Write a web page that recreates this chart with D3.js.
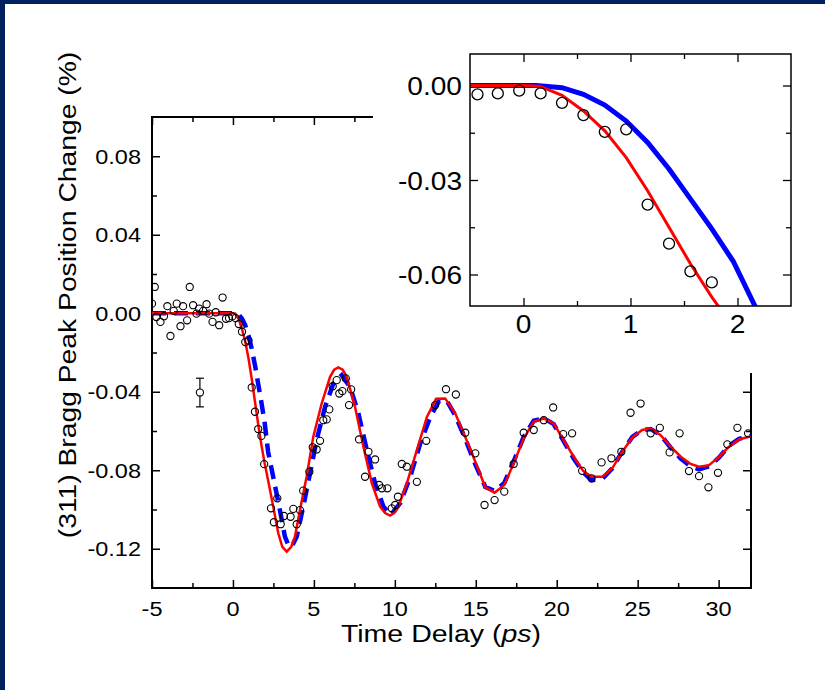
<!DOCTYPE html>
<html>
<head>
<meta charset="utf-8">
<script src="https://cdn.jsdelivr.net/npm/d3@7"></script>
<style>
  html, body { margin: 0; padding: 0; background: #fff; }
  svg { display: block; }
  text { font-family: "Liberation Sans", Arial, sans-serif; fill: #000; }
</style>
</head>
<body>
<div id="chart"></div>
<script>
// measured (311) peak shift, [time delay ps, change %]
const observed = [
  [-5.0, 0.0049], [-4.83, 0.0134], [-4.73, -0.0019], [-4.48, -0.0044], [-4.26, -0.0015],
  [-4.05, 0.0036], [-3.86, -0.0116], [-3.66, 0.0012], [-3.47, 0.0049], [-3.24, -0.0066],
  [-3.08, 0.0036], [-2.83, -0.0036], [-2.67, 0.0134], [-2.46, 0.0041], [-2.25, -0.0002],
  [-2.09, 0.0024], [-1.84, 0.0012], [-1.63, 0.0046], [-1.47, -0.0002], [-1.26, -0.0044],
  [-1.06, 0.0005], [-0.85, -0.0061], [-0.64, 0.008], [-0.43, -0.0028], [-0.24, -0.0025],
  [-0.04, -0.0016], [0.16, -0.0025], [0.36, -0.0055], [0.56, -0.0094], [0.76, -0.0147],
  [0.96, -0.0139], [1.16, -0.0378], [1.36, -0.0502], [1.56, -0.059], [1.76, -0.0625],
  [1.93, -0.0769], [2.35, -0.0994], [2.53, -0.1065], [2.74, -0.0943], [2.95, -0.1075],
  [3.15, -0.1033], [3.56, -0.1037], [3.73, -0.0997], [3.94, -0.1075], [4.14, -0.1003],
  [4.34, -0.0904], [4.72, -0.0808], [4.93, -0.0683], [5.17, -0.0694], [5.38, -0.065],
  [5.58, -0.0545], [5.79, -0.0541], [5.95, -0.049], [6.16, -0.0372], [6.41, -0.0341],
  [6.57, -0.0409], [6.76, -0.0397], [6.97, -0.0332], [7.17, -0.0468], [7.30, -0.0388],
  [7.79, -0.0643], [8.16, -0.0833], [8.37, -0.0706], [8.78, -0.0745], [9.03, -0.0875],
  [9.20, -0.0892], [9.54, -0.0892], [9.81, -0.0994], [10.02, -0.0977], [10.19, -0.0935],
  [10.43, -0.0768], [10.74, -0.0782], [11.36, -0.0859], [11.94, -0.065], [12.49, -0.0468],
  [13.16, -0.0387], [13.77, -0.0414], [14.35, -0.0609], [14.97, -0.0714], [15.54, -0.0977],
  [16.16, -0.0952], [16.76, -0.0909], [17.34, -0.0768], [17.96, -0.0609], [18.58, -0.0595],
  [19.20, -0.0545], [19.78, -0.048], [20.40, -0.0616], [20.95, -0.0612], [21.57, -0.0803],
  [22.15, -0.0841], [22.77, -0.076], [23.38, -0.0739], [23.99, -0.0706], [24.56, -0.0507],
  [25.18, -0.046], [25.80, -0.0612], [26.37, -0.0584], [26.97, -0.0709], [27.59, -0.0612],
  [28.17, -0.0804], [28.79, -0.083], [29.37, -0.0887], [29.96, -0.0813], [30.54, -0.0668],
  [31.16, -0.0584], [31.82, -0.0612]
]

// typical error bar: [time, value, half height]
const errorBar = [[-2.04, -0.0404, 0.0073]]

// red solid fit
const fitRed = [
  [-5, 0], [0.0, 0], [0.15, -0.0002], [0.36, -0.0031], [0.56, -0.0081], [0.76, -0.0144],
  [0.96, -0.0229], [1.16, -0.0334], [1.36, -0.045], [1.56, -0.0566], [1.76, -0.0672],
  [1.96, -0.0765], [2.18, -0.0855], [2.49, -0.0986], [2.80, -0.1121], [3.05, -0.119],
  [3.32, -0.1215], [3.6, -0.119], [3.83, -0.1138], [4.14, -0.1003], [4.55, -0.0833],
  [4.96, -0.063], [5.48, -0.046], [6.0, -0.0324], [6.25, -0.0288], [6.51, -0.0276],
  [6.78, -0.0288], [7.03, -0.0324], [7.54, -0.0477], [8.06, -0.068], [8.58, -0.0867],
  [9.09, -0.0986], [9.4, -0.1018], [9.71, -0.1031], [10.0, -0.1015], [10.22, -0.0986],
  [10.74, -0.0867], [11.36, -0.0697], [11.98, -0.0528], [12.55, -0.0436], [13.11, -0.0434],
  [13.73, -0.051], [14.35, -0.063], [14.97, -0.0757], [15.59, -0.0887], [16.16, -0.0914],
  [16.76, -0.0875], [17.34, -0.0765], [17.96, -0.0638], [18.58, -0.0553], [19.2, -0.0536],
  [19.81, -0.0561], [20.43, -0.0646], [21.05, -0.0731], [21.63, -0.0803], [22.15, -0.0833],
  [22.81, -0.0833], [23.43, -0.079], [24.05, -0.0706], [24.67, -0.0633], [25.28, -0.0595],
  [25.8, -0.0587], [26.42, -0.0621], [27.04, -0.068], [27.66, -0.0731], [28.27, -0.0768],
  [28.79, -0.0782], [29.41, -0.0774], [30.03, -0.0731], [30.64, -0.068], [31.26, -0.0643],
  [32.0, -0.0626]
]

// blue dashed fit
const fitBlue = [
  [-5, 0], [0.12, 0], [0.36, -0.0007], [0.56, -0.0028], [0.76, -0.0062], [0.96, -0.0113],
  [1.16, -0.0181], [1.36, -0.0265], [1.56, -0.036], [1.76, -0.0455], [1.96, -0.0558],
  [2.17, -0.0705], [2.49, -0.0835], [2.90, -0.1003], [3.21, -0.1138], [3.47, -0.119],
  [3.72, -0.1175], [3.94, -0.1138], [4.34, -0.0986], [4.76, -0.0816], [5.17, -0.0646],
  [5.69, -0.0477], [6.2, -0.0358], [6.72, -0.0316], [7.23, -0.0375], [7.75, -0.051],
  [8.27, -0.0697], [8.78, -0.0867], [9.3, -0.0986], [9.75, -0.1028], [10.33, -0.0968],
  [10.95, -0.0833], [11.57, -0.0663], [12.19, -0.0528], [12.7, -0.045], [13.2, -0.0445],
  [13.73, -0.052], [14.35, -0.064], [14.97, -0.077], [15.59, -0.0885], [16.16, -0.0905],
  [16.76, -0.0865], [17.34, -0.0755], [17.96, -0.063], [18.58, -0.0548], [19.2, -0.0535],
  [19.81, -0.0565], [20.43, -0.0652], [21.05, -0.074], [21.63, -0.081], [22.15, -0.085],
  [22.81, -0.0845], [23.43, -0.079], [24.05, -0.0705], [24.67, -0.063], [25.28, -0.0595],
  [25.8, -0.059], [26.42, -0.062], [27.04, -0.0685], [27.66, -0.074], [28.27, -0.078],
  [28.79, -0.0795], [29.41, -0.078], [30.03, -0.0735], [30.64, -0.0675], [31.26, -0.064],
  [32.0, -0.0625]
]

// ticks and labels
const mainXMajor = [-5, 0, 5, 10, 15, 20, 25, 30]
const mainXLabels = ['-5', '0', '5', '10', '15', '20', '25', '30']
const mainXMinor = [-2.5, 2.5, 7.5, 12.5, 17.5, 22.5, 27.5]
const mainYMajor = [0.08, 0.04, 0, -0.04, -0.08, -0.12]
const mainYLabels = ['0.08', '0.04', '0.00', '-0.04', '-0.08', '-0.12']
const mainYMinor = [0.06, 0.02, -0.02, -0.06, -0.10]
const insetXMajor = [0, 1, 2]
const insetXLabels = ['0', '1', '2']
const insetXMinor = [0.5, 1.5]
const insetYMajor = [0, -0.03, -0.06]
const insetYLabels = ['0.00', '-0.03', '-0.06']
const insetYMinor = [-0.015, -0.045]

const W = 825
const H = 690
const mainBox = { left: 152, top: 117, right: 751, bottom: 588 }
const insetBox = { left: 470, top: 54, right: 791, bottom: 306 }

const svg = d3.select('#chart').append('svg')
  .attr('width', W)
  .attr('height', H)

svg.append('rect').attr('width', W).attr('height', H).attr('fill', '#fff')

const x = d3.scaleLinear().domain([-5, 32]).range([mainBox.left, mainBox.right])
const y = d3.scaleLinear().domain([-0.14, 0.10]).range([mainBox.bottom, mainBox.top])
const xi = d3.scaleLinear().domain([-0.5, 2.5]).range([insetBox.left, insetBox.right])
const yi = d3.scaleLinear().domain([-0.07, 0.01]).range([insetBox.bottom, insetBox.top])

const defs = svg.append('defs')
defs.append('clipPath').attr('id', 'clipMain').append('rect')
  .attr('x', mainBox.left).attr('y', mainBox.top)
  .attr('width', mainBox.right - mainBox.left).attr('height', mainBox.bottom - mainBox.top)
defs.append('clipPath').attr('id', 'clipInset').append('rect')
  .attr('x', insetBox.left).attr('y', insetBox.top)
  .attr('width', insetBox.right - insetBox.left).attr('height', insetBox.bottom - insetBox.top)

// inward ticks, no domain line
function tickRow (axisFn, scale, values, size, tx, ty, width) {
  svg.append('g')
    .attr('transform', `translate(${tx},${ty})`)
    .call(axisFn(scale).tickValues(values).tickSize(size).tickSizeOuter(0).tickFormat(''))
    .call(g => g.select('.domain').remove())
    .call(g => g.selectAll('line').attr('stroke', '#000').attr('stroke-width', width))
}

// slightly stretched text, like the original typeface
function label (txt, px, py, size, sx, anchor) {
  return svg.append('text')
    .attr('transform', `translate(${px},${py}) scale(${sx},1)`)
    .attr('text-anchor', anchor)
    .attr('font-size', size)
    .text(txt)
}

// ---- main plot ----
tickRow(d3.axisBottom, x, mainXMajor, -8, 0, mainBox.bottom, 1.5)
tickRow(d3.axisBottom, x, mainXMinor, -5, 0, mainBox.bottom, 1.5)
tickRow(d3.axisTop, x, mainXMajor, -8, 0, mainBox.top, 1.5)
tickRow(d3.axisTop, x, mainXMinor, -5, 0, mainBox.top, 1.5)
tickRow(d3.axisLeft, y, mainYMajor, -8, mainBox.left, 0, 1.5)
tickRow(d3.axisLeft, y, mainYMinor, -5, mainBox.left, 0, 1.5)
tickRow(d3.axisRight, y, mainYMajor, -8, mainBox.right, 0, 1.5)
tickRow(d3.axisRight, y, mainYMinor, -5, mainBox.right, 0, 1.5)

svg.append('rect')
  .attr('x', mainBox.left).attr('y', mainBox.top)
  .attr('width', mainBox.right - mainBox.left).attr('height', mainBox.bottom - mainBox.top)
  .attr('fill', 'none').attr('stroke', '#000').attr('stroke-width', 2)

const plot = svg.append('g').attr('clip-path', 'url(#clipMain)')

const lineMain = d3.line().x(d => x(d[0])).y(d => y(d[1]))

plot.append('path')
  .datum(fitBlue)
  .attr('d', lineMain)
  .attr('fill', 'none')
  .attr('stroke', '#0000ff')
  .attr('stroke-width', 4.5)
  .attr('stroke-dasharray', '14,8')

plot.append('path')
  .datum(fitRed)
  .attr('d', lineMain)
  .attr('fill', 'none')
  .attr('stroke', '#ff0000')
  .attr('stroke-width', 2.5)

plot.selectAll('circle.obs')
  .data(observed)
  .join('circle')
  .attr('class', 'obs')
  .attr('cx', d => x(d[0]))
  .attr('cy', d => y(d[1]))
  .attr('r', 3.6)
  .attr('fill', 'none')
  .attr('stroke', '#000')
  .attr('stroke-width', 1.1)

const eb = svg.append('g').selectAll('g').data(errorBar).join('g')
eb.append('line')
  .attr('x1', d => x(d[0])).attr('x2', d => x(d[0]))
  .attr('y1', d => y(d[1] + d[2])).attr('y2', d => y(d[1] - d[2]))
  .attr('stroke', '#000').attr('stroke-width', 1.2)
eb.selectAll('line.cap').data(d => [[d[0], d[1] + d[2]], [d[0], d[1] - d[2]]]).join('line')
  .attr('class', 'cap')
  .attr('x1', d => x(d[0]) - 4).attr('x2', d => x(d[0]) + 4)
  .attr('y1', d => y(d[1])).attr('y2', d => y(d[1]))
  .attr('stroke', '#000').attr('stroke-width', 1.2)
eb.append('circle')
  .attr('cx', d => x(d[0])).attr('cy', d => y(d[1]))
  .attr('r', 3.6)
  .attr('fill', '#fff').attr('stroke', '#000').attr('stroke-width', 1.1)

mainXMajor.forEach((v, i) => label(mainXLabels[i], x(v), 616, 21, 1.12, 'middle'))
mainYMajor.forEach((v, i) => label(mainYLabels[i], 141, y(v) + 7.5, 21, 1.12, 'end'))

const xTitle = svg.append('text')
  .attr('transform', 'translate(441,642) scale(1.15,1)')
  .attr('text-anchor', 'middle')
  .attr('font-size', 24.8)
xTitle.append('tspan').text('Time Delay (')
xTitle.append('tspan').attr('font-style', 'italic').text('ps')
xTitle.append('tspan').text(')')

svg.append('text')
  .attr('transform', 'translate(76,295) rotate(-90) scale(1.14,1)')
  .attr('text-anchor', 'middle')
  .attr('font-size', 24.8)
  .text('(311) Bragg Peak Position Change (%)')

// white area behind the inset hides the main frame's top-right
svg.append('rect')
  .attr('x', 373).attr('y', 20)
  .attr('width', W - 373).attr('height', 373 - 20)
  .attr('fill', '#fff')

// ---- inset ----
tickRow(d3.axisBottom, xi, insetXMajor, -8, 0, insetBox.bottom, 1.3)
tickRow(d3.axisBottom, xi, insetXMinor, -5, 0, insetBox.bottom, 1.3)
tickRow(d3.axisTop, xi, insetXMajor, -8, 0, insetBox.top, 1.3)
tickRow(d3.axisTop, xi, insetXMinor, -5, 0, insetBox.top, 1.3)
tickRow(d3.axisLeft, yi, insetYMajor, -8, insetBox.left, 0, 1.3)
tickRow(d3.axisLeft, yi, insetYMinor, -5, insetBox.left, 0, 1.3)
tickRow(d3.axisRight, yi, insetYMajor, -8, insetBox.right, 0, 1.3)
tickRow(d3.axisRight, yi, insetYMinor, -5, insetBox.right, 0, 1.3)

const inset = svg.append('g').attr('clip-path', 'url(#clipInset)')
const lineInset = d3.line().x(d => xi(d[0])).y(d => yi(d[1]))

inset.append('path')
  .datum(fitBlue)
  .attr('d', lineInset)
  .attr('fill', 'none')
  .attr('stroke', '#0000ff')
  .attr('stroke-width', 5)

inset.append('path')
  .datum(fitRed)
  .attr('d', lineInset)
  .attr('fill', 'none')
  .attr('stroke', '#ff0000')
  .attr('stroke-width', 3)

inset.selectAll('circle')
  .data(observed)
  .join('circle')
  .attr('cx', d => xi(d[0]))
  .attr('cy', d => yi(d[1]))
  .attr('r', 5.5)
  .attr('fill', 'none')
  .attr('stroke', '#000')
  .attr('stroke-width', 1.3)

svg.append('rect')
  .attr('x', insetBox.left).attr('y', insetBox.top)
  .attr('width', insetBox.right - insetBox.left).attr('height', insetBox.bottom - insetBox.top)
  .attr('fill', 'none').attr('stroke', '#000').attr('stroke-width', 1.5)

insetXMajor.forEach((v, i) => label(insetXLabels[i], xi(v), 333, 26.5, 1.06, 'middle'))
insetYMajor.forEach((v, i) => label(insetYLabels[i], 462, yi(v) + 9.5, 26.5, 1.06, 'end'))

// navy slide frame
svg.append('rect').attr('x', 0).attr('y', 0).attr('width', W).attr('height', 4).attr('fill', '#002060')
svg.append('rect').attr('x', 0).attr('y', 0).attr('width', 5).attr('height', H).attr('fill', '#002060')
</script>
</body>
</html>
